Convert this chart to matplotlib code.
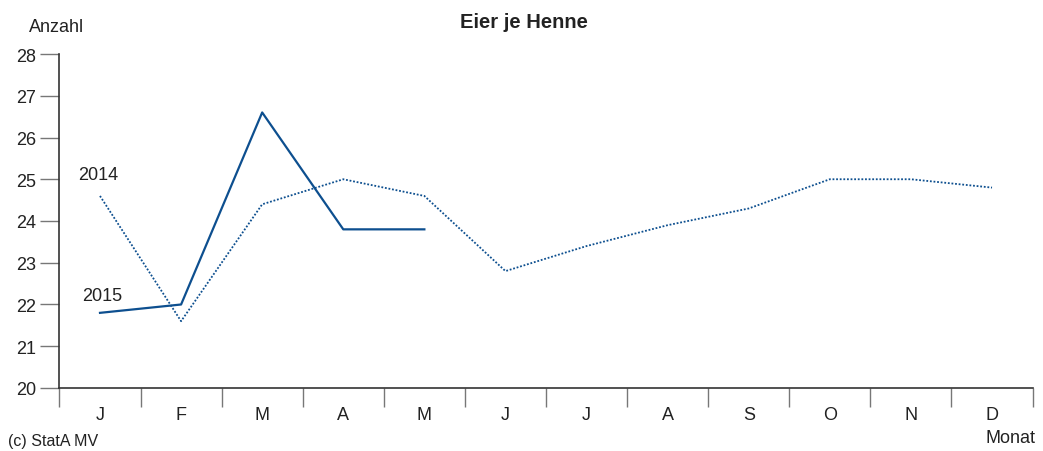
import matplotlib.pyplot as plt

plt.rcParams['font.family'] = ['Liberation Sans', 'DejaVu Sans']

months = ['J', 'F', 'M', 'A', 'M', 'J', 'J', 'A', 'S', 'O', 'N', 'D']
eier_2014 = [24.6, 21.6, 24.4, 25.0, 24.6, 22.8, 23.4, 23.9, 24.3, 25.0, 25.0, 24.8]
eier_2015 = [21.8, 22.0, 26.6, 23.8, 23.8]
yticks = [20, 21, 22, 23, 24, 25, 26, 27, 28]

blue = '#0d4f8f'
grey = '#333333'
txt = '#222222'

fig = plt.figure(figsize=(10.43, 4.52), dpi=100)
ax = fig.add_axes([0.057, 0.1394, 0.933, 0.7389])

ax.plot(range(len(eier_2014)), eier_2014, color=blue, lw=1.3, ls=(0, (1, 1)))
ax.plot(range(len(eier_2015)), eier_2015, color=blue, lw=1.6)

ax.set_xlim(-0.5, 11.5)
ax.set_ylim(20, 28)
ax.set_yticks(yticks)
ax.set_xticks(range(12))
ax.set_xticklabels(months)
ax.set_xticks([i - 0.5 for i in range(13)], minor=True)
ax.tick_params(axis='x', which='major', length=0, pad=13, labelsize=13, colors=txt)
ax.tick_params(axis='x', which='minor', length=14, width=1, color='#777777', direction='out')
ax.tick_params(axis='y', length=14, width=1, labelsize=13, pad=3, colors=txt)
ax.tick_params(axis='y', color='#777777')

for s in ['top', 'right']:
    ax.spines[s].set_visible(False)
for s in ['left', 'bottom']:
    ax.spines[s].set_color(grey)
    ax.spines[s].set_linewidth(1.2)

ax.text(-0.02, 25.0, '2014', ha='center', va='baseline', fontsize=13, color=txt)
ax.text(0.03, 22.11, '2015', ha='center', va='baseline', fontsize=13, color=txt)

fig.text(0.502, 0.951, 'Eier je Henne', ha='center', va='center', fontsize=14.5, fontweight='bold', color=txt)
fig.text(0.028, 0.94, 'Anzahl', ha='left', va='center', fontsize=13, color=txt)
fig.text(0.993, 0.03, 'Monat', ha='right', va='center', fontsize=13, color=txt)
fig.text(0.008, 0.024, '(c) StatA MV', ha='left', va='center', fontsize=11.5, color=txt)

fig.savefig('out.png', dpi=100)
